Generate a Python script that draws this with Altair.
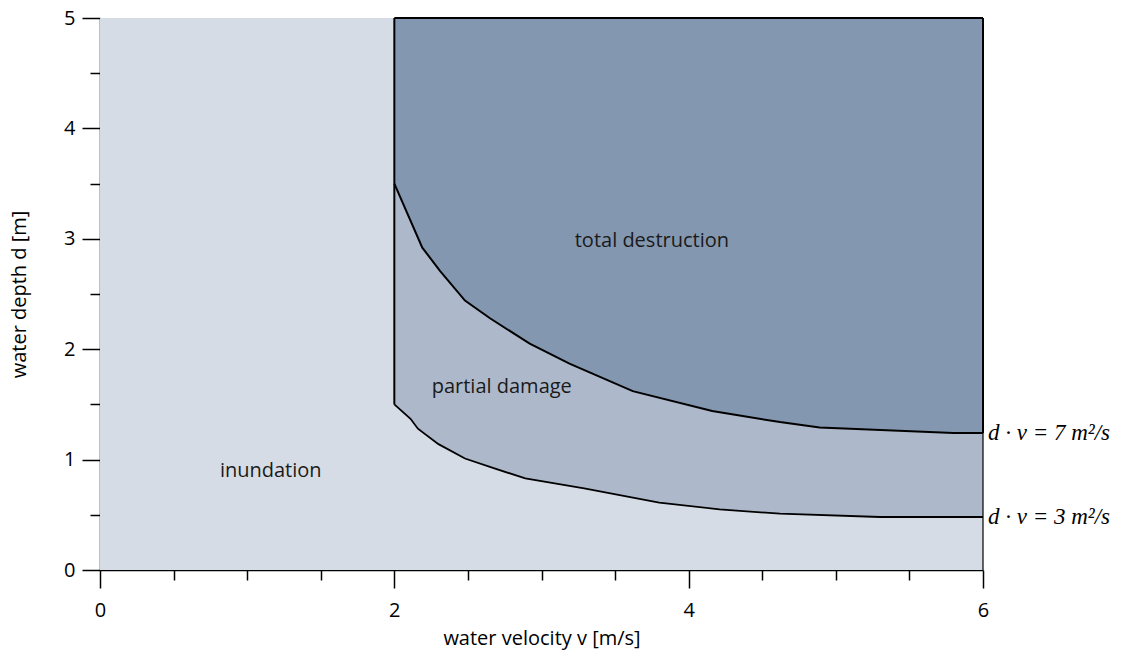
import altair as alt
import pandas as pd

# ---- data ----
v_range = [0, 6]
d_range = [0, 5]

upper_v = [2.0, 2.19, 2.31, 2.48, 2.65, 2.92, 3.19, 3.62, 4.16, 4.62, 4.89, 5.8, 6.0]
upper_d = [3.5, 2.92, 2.71, 2.44, 2.28, 2.05, 1.87, 1.62, 1.44, 1.34, 1.29, 1.24, 1.24]

lower_v = [2.0, 2.11, 2.16, 2.30, 2.48, 2.68, 2.89, 3.29, 3.80, 4.21, 4.62, 5.30, 6.0]
lower_d = [1.5, 1.37, 1.28, 1.14, 1.01, 0.92, 0.83, 0.74, 0.61, 0.55, 0.51, 0.48, 0.48]

region_labels = ["inundation", "partial damage", "total destruction"]
region_v = [1.16, 2.73, 3.75]
region_d = [0.9, 1.66, 2.98]

curve_labels = ["d · v = 7  m²/s", "d · v = 3  m²/s"]

x_ticks = [0, 0.5, 1, 1.5, 2, 2.5, 3, 3.5, 4, 4.5, 5, 5.5, 6]
y_ticks = [0, 0.5, 1, 1.5, 2, 2.5, 3, 3.5, 4, 4.5, 5]

C_INUND = "#D6DCE5"
C_PART = "#ADB9CA"
C_TOTAL = "#8497B0"
FONT = "Open Sans"

bg_df = pd.DataFrame({"v": [v_range[0]], "v2": [v_range[1]], "d": [d_range[0]], "d2": [d_range[1]]})
up_df = pd.DataFrame({"v": upper_v, "d": upper_d})
lo_df = pd.DataFrame({"v": lower_v, "d": lower_d})
lab_df = pd.DataFrame({"v": region_v, "d": region_d, "label": region_labels})
cl_df = pd.DataFrame({"v": [upper_v[-1], lower_v[-1]], "d": [upper_d[-1], lower_d[-1]], "label": curve_labels})
# boundary rules: vertical at v=2, top edge, right edge (upper part), right edge (lower part)
rules_df = pd.DataFrame({
    "v": [lower_v[0], lower_v[0], v_range[1]],
    "v2": [lower_v[0], v_range[1], v_range[1]],
    "d": [lower_d[0], d_range[1], upper_d[-1]],
    "d2": [d_range[1], d_range[1], d_range[1]],
})
thin_df = pd.DataFrame({"v": [v_range[1]], "v2": [v_range[1]], "d": [d_range[0]], "d2": [upper_d[-1]]})

xaxis = alt.Axis(
    values=x_ticks,
    labelExpr="datum.value % 2 === 0 ? format(datum.value, 'd') : ''",
    tickSize={"condition": {"test": "datum.value % 2 === 0", "value": 18}, "value": 10},
    grid=False,
    labelFlush=False,
    title="water velocity v [m/s]",
    titlePadding=8,
    labelPadding=12,
)
yaxis = alt.Axis(
    values=y_ticks,
    labelExpr="datum.value % 1 === 0 ? format(datum.value, 'd') : ''",
    tickSize={"condition": {"test": "datum.value % 1 === 0", "value": 18}, "value": 10},
    grid=False,
    labelFlush=False,
    title="water depth d [m]",
    titlePadding=34,
    labelPadding=7,
)
xs = alt.Scale(domain=v_range, nice=False, zero=False)
ys = alt.Scale(domain=d_range, nice=False, zero=False)

def X(f="v"):
    return alt.X(f"{f}:Q", scale=xs, axis=xaxis)

def Y(f="d"):
    return alt.Y(f"{f}:Q", scale=ys, axis=yaxis)

bg = alt.Chart(bg_df).mark_rect(color=C_INUND).encode(
    x=X(), x2="v2:Q", y=Y(), y2="d2:Q")

part = alt.Chart(lo_df).mark_area(color=C_PART, interpolate="linear").encode(
    x=X(), y=Y(), y2=alt.datum(d_range[1]))

total = alt.Chart(up_df).mark_area(color=C_TOTAL, interpolate="linear").encode(
    x=X(), y=Y(), y2=alt.datum(d_range[1]))

up_line = alt.Chart(up_df).mark_line(color="black", strokeWidth=2).encode(x=X(), y=Y())
lo_line = alt.Chart(lo_df).mark_line(color="black", strokeWidth=1.8).encode(x=X(), y=Y())

rules = alt.Chart(rules_df).mark_rule(color="black", strokeWidth=2).encode(
    x=X(), x2="v2:Q", y=Y(), y2="d2:Q")
thin = alt.Chart(thin_df).mark_rule(color="black", strokeWidth=1.2).encode(
    x=X(), x2="v2:Q", y=Y(), y2="d2:Q")

labels = alt.Chart(lab_df).mark_text(font=FONT, fontSize=20, color="#1a1a1a").encode(
    x=X(), y=Y(), text="label:N")

clabels = alt.Chart(cl_df).mark_text(
    font="Liberation Serif", fontStyle="italic", fontSize=23, align="left", dx=5, color="black"
).encode(x=X(), y=Y(), text="label:N")

chart = alt.layer(bg, part, total, up_line, lo_line, rules, thin, labels, clabels).properties(
    width=883, height=552,
    padding={"left": 92, "top": 10, "right": 150, "bottom": 80},
    autosize=alt.AutoSizeParams(type="none"),
).configure_view(stroke=None).configure_axis(
    domainColor="black", domainWidth=1.5, tickColor="black", tickWidth=1.5,
    labelFont=FONT, labelFontSize=20, labelColor="black",
    titleFont=FONT, titleFontSize=20, titleFontWeight="normal", titleColor="black",
)

chart.save("out.html", embed_options={"renderer": "svg", "actions": False})
